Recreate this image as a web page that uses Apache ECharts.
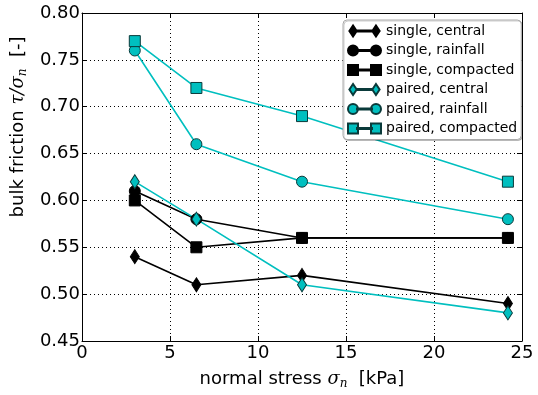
<!DOCTYPE html>
<html>
<head>
<meta charset="utf-8">
<title>bulk friction</title>
<script src="https://cdn.jsdelivr.net/npm/echarts@6/dist/echarts.min.js"></script>
<style>
  html, body { margin: 0; padding: 0; background: #fff; }
</style>
</head>
<body>
<div id="main" style="width:538px;height:395px"></div>
<script type="text/javascript">
// normal stress values (kPa)
var stress = [3, 6.5, 12.5, 24.2];

// bulk friction per series
var singleCentral   = [0.54, 0.51, 0.52, 0.49];
var singleRainfall  = [0.61, 0.58, 0.56, 0.56];
var singleCompacted = [0.60, 0.55, 0.56, 0.56];
var pairedCentral   = [0.62, 0.58, 0.51, 0.48];
var pairedRainfall  = [0.76, 0.66, 0.62, 0.58];
var pairedCompacted = [0.77, 0.72, 0.69, 0.62];

var seriesNames = ['single, central', 'single, rainfall', 'single, compacted',
                   'paired, central', 'paired, rainfall', 'paired, compacted'];

var CYAN = '#00bfbf';
var FONT = 'DejaVu Sans';
var MATH = 'DejaVu Serif';

// legend icons: marker - line - marker
var lineBar = ' M9,5.4 L24,5.4 L24,6.6 L9,6.6 Z';
var icons = {
  diamond: 'path://M0,6 L4,0 L8,6 L4,12 Z' + lineBar + ' M25,6 L29,0 L33,6 L29,12 Z',
  circle: 'path://M0,6 A5,5 0 1,1 10,6 A5,5 0 1,1 0,6 Z' + lineBar + ' M23,6 A5,5 0 1,1 33,6 A5,5 0 1,1 23,6 Z',
  rect: 'path://M0,1 L10,1 L10,11 L0,11 Z' + lineBar + ' M23,1 L33,1 L33,11 L23,11 Z'
};

function pairs(ys) {
  return stress.map(function (x, i) { return [x, ys[i]]; });
}

function mkSeries(name, ys, symbol, color) {
  var size = symbol === 'diamond' ? [9, 14] : 11;
  return {
    name: name,
    type: 'line',
    data: pairs(ys),
    symbol: symbol,
    symbolSize: size,
    showAllSymbol: true,
    lineStyle: { color: color, width: 1.6 },
    itemStyle: {
      color: color,
      borderColor: color === CYAN ? '#0a3a3a' : '#000',
      borderWidth: 1
    },
    emphasis: { disabled: true },
    animation: false
  };
}

var series = [
  mkSeries(seriesNames[0], singleCentral, 'diamond', '#000'),
  mkSeries(seriesNames[1], singleRainfall, 'circle', '#000'),
  mkSeries(seriesNames[2], singleCompacted, 'rect', '#000'),
  mkSeries(seriesNames[3], pairedCentral, 'diamond', CYAN),
  mkSeries(seriesNames[4], pairedRainfall, 'circle', CYAN),
  mkSeries(seriesNames[5], pairedCompacted, 'rect', CYAN)
];

var iconOrder = ['diamond', 'circle', 'rect', 'diamond', 'circle', 'rect'];

var tickStyle = { inside: true, length: 5, lineStyle: { color: '#000', width: 1 } };
var spine = { show: true, onZero: false, lineStyle: { color: '#000', width: 1 } };
var grid = { show: true, lineStyle: { color: '#000', width: 1, type: [1, 3] } };

var titleRich = {
  t: { fontFamily: FONT, fontSize: 18, color: '#000' },
  i: { fontFamily: MATH, fontSize: 18, fontStyle: 'italic', color: '#000' },
  s: { fontFamily: MATH, fontSize: 12, fontStyle: 'italic', color: '#000', verticalAlign: 'bottom', padding: [9, 0, 0, 0] }
};

var myChart = echarts.init(document.getElementById('main'));

var option = {
  backgroundColor: '#fff',
  animation: false,
  grid: { left: 82, right: 16, top: 13, bottom: 54 },
  legend: {
    left: 343,
    top: 20,
    orient: 'vertical',
    itemWidth: 33,
    itemHeight: 11,
    itemGap: 5.5,
    padding: [4, 4, 4, 4],
    backgroundColor: '#fff',
    borderColor: '#aaa',
    borderWidth: 1,
    borderRadius: 4,
    shadowColor: 'rgba(0,0,0,0.2)',
    shadowOffsetX: 1,
    shadowOffsetY: 1,
    shadowBlur: 0,
    textStyle: { fontFamily: FONT, fontSize: 14, color: '#000' },
    data: seriesNames.map(function (n, i) { return { name: n, icon: icons[iconOrder[i]] }; })
  },
  xAxis: [{
    type: 'value',
    min: 0, max: 25, interval: 5,
    position: 'bottom',
    axisLine: spine,
    axisTick: tickStyle,
    splitLine: grid,
    axisLabel: { fontFamily: FONT, fontSize: 18, color: '#000', margin: 3 },
    name: '{t|normal stress }{i|σ}{s|n}{t|  [kPa]}',
    nameLocation: 'middle',
    nameGap: 28,
    nameTextStyle: { rich: titleRich }
  }, {
    type: 'value',
    min: 0, max: 25, interval: 5,
    position: 'top',
    axisLine: spine,
    axisTick: tickStyle,
    splitLine: { show: false },
    axisLabel: { show: false }
  }],
  yAxis: [{
    type: 'value',
    min: 0.45, max: 0.80, interval: 0.05,
    position: 'left',
    axisLine: spine,
    axisTick: tickStyle,
    splitLine: grid,
    axisLabel: {
      fontFamily: FONT, fontSize: 18, color: '#000', margin: 2,
      formatter: function (v) { return v.toFixed(2); }
    },
    name: '{t|bulk friction }{i|τ/σ}{s|n}{t|  [-]}',
    nameLocation: 'middle',
    nameGap: 51,
    nameRotate: 90,
    nameTextStyle: { rich: titleRich, padding: [0, 0, 0, 100] }
  }, {
    type: 'value',
    min: 0.45, max: 0.80, interval: 0.05,
    position: 'right',
    axisLine: spine,
    axisTick: tickStyle,
    splitLine: { show: false },
    axisLabel: { show: false }
  }],
  series: series
};

myChart.setOption(option);
</script>
</body>
</html>
